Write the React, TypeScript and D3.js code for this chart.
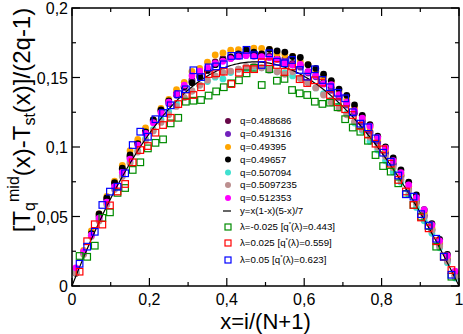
import React from 'react';
import * as d3 from 'd3';

const W = 463;
const H = 334;
const plot = { left: 72, right: 459, top: 8, bottom: 286 };

const xTicks = [0, 0.2, 0.4, 0.6, 0.8, 1];
const xTickLabels = ['0', '0,2', '0,4', '0,6', '0,8', '1'];
const xMinor = [0.1, 0.3, 0.5, 0.7, 0.9];
const yTicks = [0, 0.05, 0.1, 0.15, 0.2];
const yTickLabels = ['0', '0,05', '0,1', '0,15', '0,2'];
const yMinor = [0.025, 0.075, 0.125, 0.175];

// x grids
const circleX = d3.range(50).map((k) => (2 * k + 1) / 100);
const squareX = d3.range(1, 51).map((i) => i / 51);

const q0488686 = [0.0101,0.0237,0.0376,0.0498,0.0624,0.0734,0.0837,0.0933,0.1034,0.1118,0.1195,0.1267,0.1322,0.1382,0.1435,0.1483,0.1535,0.1561,0.1612,0.1637,0.1646,0.1670,0.1679,0.1672,0.1670,0.1653,0.1641,0.1633,0.1601,0.1584,0.1542,0.1515,0.1464,0.1428,0.1367,0.1312,0.1252,0.1188,0.1110,0.1038,0.0961,0.0881,0.0796,0.0697,0.0605,0.0509,0.0409,0.0305,0.0188,0.0077];
const q0491316 = [0.0111,0.0247,0.0376,0.0508,0.0624,0.0734,0.0837,0.0923,0.1024,0.1108,0.1185,0.1257,0.1312,0.1372,0.1425,0.1473,0.1525,0.1551,0.1592,0.1627,0.1636,0.1660,0.1659,0.1662,0.1650,0.1643,0.1631,0.1623,0.1591,0.1574,0.1532,0.1505,0.1454,0.1408,0.1357,0.1302,0.1242,0.1178,0.1100,0.1028,0.0951,0.0871,0.0786,0.0697,0.0605,0.0499,0.0399,0.0295,0.0188,0.0067];
const q049395 = [0.0121,0.0257,0.0396,0.0518,0.0644,0.0754,0.0867,0.0973,0.1054,0.1138,0.1195,0.1277,0.1342,0.1412,0.1465,0.1543,0.1565,0.1611,0.1662,0.1677,0.1696,0.1700,0.1699,0.1712,0.1710,0.1703,0.1671,0.1663,0.1651,0.1614,0.1592,0.1545,0.1504,0.1468,0.1397,0.1342,0.1282,0.1208,0.1140,0.1058,0.0981,0.0901,0.0806,0.0717,0.0625,0.0529,0.0419,0.0315,0.0208,0.0087];
const q049657 = [0.0091,0.0237,0.0376,0.0518,0.0634,0.0744,0.0847,0.0943,0.1024,0.1108,0.1195,0.1267,0.1332,0.1382,0.1435,0.1463,0.1505,0.1551,0.1592,0.1627,0.1646,0.1670,0.1699,0.1682,0.1670,0.1703,0.1691,0.1683,0.1651,0.1644,0.1592,0.1565,0.1524,0.1478,0.1417,0.1372,0.1302,0.1228,0.1160,0.1078,0.1001,0.0921,0.0836,0.0747,0.0655,0.0549,0.0449,0.0335,0.0228,0.0097];
const q0507094 = [0.0101,0.0237,0.0366,0.0478,0.0594,0.0704,0.0797,0.0893,0.0974,0.1058,0.1125,0.1197,0.1252,0.1312,0.1355,0.1403,0.1445,0.1471,0.1502,0.1490,0.1536,0.1560,0.1559,0.1572,0.1570,0.1553,0.1541,0.1533,0.1511,0.1494,0.1462,0.1425,0.1384,0.1338,0.1297,0.1242,0.1172,0.1118,0.1040,0.0978,0.0901,0.0821,0.0746,0.0657,0.0565,0.0469,0.0379,0.0275,0.0168,0.0057];
const q05097235 = [0.0091,0.0227,0.0356,0.0468,0.0584,0.0694,0.0787,0.0883,0.0964,0.1048,0.1115,0.1177,0.1232,0.1292,0.1355,0.1403,0.1445,0.1481,0.1512,0.1537,0.1546,0.1560,0.1579,0.1582,0.1570,0.1553,0.1541,0.1523,0.1541,0.1494,0.1462,0.1425,0.1374,0.1318,0.1277,0.1232,0.1182,0.1128,0.1070,0.0998,0.0931,0.0851,0.0766,0.0687,0.0595,0.0499,0.0399,0.0285,0.0178,0.0067];
const q0512353 = [0.0131,0.0247,0.0366,0.0488,0.0604,0.0714,0.0817,0.0913,0.1014,0.1098,0.1175,0.1247,0.1322,0.1382,0.1445,0.1513,0.1545,0.1571,0.1602,0.1617,0.1636,0.1650,0.1659,0.1652,0.1650,0.1643,0.1631,0.1603,0.1591,0.1594,0.1542,0.1515,0.1454,0.1448,0.1377,0.1322,0.1262,0.1208,0.1150,0.1068,0.0991,0.0901,0.0816,0.0727,0.0635,0.0549,0.0439,0.0325,0.0218,0.0107];

const lamM0025 = [0.0216,0.0210,0.0290,0.0490,0.0530,0.0670,0.0705,0.0835,0.0890,0.0990,0.1030,0.1055,0.1170,0.1210,0.1326,0.1333,0.1338,0.1370,0.1400,0.1430,0.1458,0.1480,0.1530,0.1570,0.1446,0.1560,0.1477,0.1490,0.1410,0.1386,0.1374,0.1326,0.1310,0.1319,0.1286,0.1200,0.1140,0.1110,0.1045,0.0942,0.0863,0.0823,0.0739,0.0662,0.0583,0.0499,0.0432,0.0283,0.0211,0.0067];
const lamP0025 = [0.0103,0.0322,0.0444,0.0442,0.0580,0.0680,0.0734,0.0890,0.0978,0.1007,0.1103,0.1158,0.1210,0.1309,0.1367,0.1374,0.1430,0.1525,0.1530,0.1542,0.1453,0.1535,0.1560,0.1560,0.1610,0.1610,0.1590,0.1540,0.1580,0.1488,0.1460,0.1480,0.1463,0.1374,0.1322,0.1272,0.1230,0.1152,0.1090,0.1024,0.0983,0.0880,0.0763,0.0680,0.0583,0.0493,0.0415,0.0322,0.0211,0.0115];
const lamP005 = [0.0160,0.0283,0.0390,0.0583,0.0679,0.0714,0.0811,0.1014,0.1110,0.1074,0.1200,0.1245,0.1300,0.1380,0.1415,0.1552,0.1503,0.1573,0.1580,0.1595,0.1655,0.1658,0.1699,0.1660,0.1590,0.1674,0.1614,0.1602,0.1626,0.1554,0.1506,0.1559,0.1482,0.1430,0.1390,0.1350,0.1250,0.1168,0.1142,0.1062,0.0959,0.0894,0.0795,0.0660,0.0643,0.0517,0.0435,0.0340,0.0211,0.0081];

const circleSeries = [
  { label: 'q=0.488686', color: '#670748', values: q0488686 },
  { label: 'q=0.491316', color: '#7221BC', values: q0491316 },
  { label: 'q=0.49395', color: '#FFA500', values: q049395 },
  { label: 'q=0.49657', color: '#000000', values: q049657 },
  { label: 'q=0.507094', color: '#40E0D0', values: q0507094 },
  { label: 'q=0.5097235', color: '#BC8F8F', values: q05097235 },
  { label: 'q=0.512353', color: '#FF00FF', values: q0512353 },
];

const squareSeries = [
  { lam: '-0.025', qs: '0.443', color: '#008B00', values: lamM0025 },
  { lam: '0.025', qs: '0.559', color: '#FF0000', values: lamP0025 },
  { lam: '0.05', qs: '0.623', color: '#0000FF', values: lamP005 },
];

const curveLabel = 'y=x(1-x)(5-x)/7';
const curveFn = (x: number) => (x * (1 - x) * (5 - x)) / 7;

const FONT = "'Liberation Sans', Arial, Helvetica, sans-serif";

export default function App() {
  const x = d3.scaleLinear().domain([0, 1]).range([plot.left, plot.right]);
  const y = d3.scaleLinear().domain([0, 0.2]).range([plot.bottom, plot.top]);
  const curvePts = d3.range(0, 1.0001, 0.005).map((v) => [v, curveFn(v)] as [number, number]);
  const line = d3.line<[number, number]>().x((d) => x(d[0])).y((d) => y(d[1]));

  const legendY = [121, 134, 147, 159.5, 172.5, 185, 198, 211, 227, 243, 260];
  const legMarkX = 228;
  const legTextX = 240;
  const legFont = 9.7;
  const sq = 6.6;

  return (
    <svg width={W} height={H} style={{ position: 'absolute', left: 0, top: 0, background: '#fff' }} fontFamily={FONT}>
      <rect x={0} y={0} width={W} height={H} fill="#fff" />
      {/* circles */}
      {circleSeries.map((s) => (
        <g key={s.label} fill={s.color}>
          {s.values.map((v, i) => (
            <circle key={i} cx={x(circleX[i])} cy={y(v)} r={3.4} />
          ))}
        </g>
      ))}
      {/* curve */}
      <path d={line(curvePts) || ''} fill="none" stroke="#000" strokeWidth={1.2} />
      {/* squares */}
      {squareSeries.map((s) => (
        <g key={s.lam} fill="none" stroke={s.color} strokeWidth={1.2}>
          {s.values.map((v, i) => (
            <rect key={i} x={x(squareX[i]) - sq / 2} y={y(v) - sq / 2} width={sq} height={sq} />
          ))}
        </g>
      ))}
      {/* frame */}
      <rect x={plot.left} y={plot.top} width={plot.right - plot.left} height={plot.bottom - plot.top} fill="none" stroke="#000" strokeWidth={1.5} />
      {/* x ticks */}
      {xTicks.map((t) => (
        <g key={'xt' + t}>
          <line x1={x(t)} x2={x(t)} y1={plot.bottom} y2={plot.bottom - 8} stroke="#000" strokeWidth={1.2} />
          <line x1={x(t)} x2={x(t)} y1={plot.top} y2={plot.top + 8} stroke="#000" strokeWidth={1.2} />
        </g>
      ))}
      {xMinor.map((t) => (
        <g key={'xm' + t}>
          <line x1={x(t)} x2={x(t)} y1={plot.bottom} y2={plot.bottom - 4} stroke="#000" strokeWidth={1.2} />
          <line x1={x(t)} x2={x(t)} y1={plot.top} y2={plot.top + 4} stroke="#000" strokeWidth={1.2} />
        </g>
      ))}
      {yTicks.map((t) => (
        <g key={'yt' + t}>
          <line x1={plot.left} x2={plot.left + 8} y1={y(t)} y2={y(t)} stroke="#000" strokeWidth={1.2} />
          <line x1={plot.right} x2={plot.right - 8} y1={y(t)} y2={y(t)} stroke="#000" strokeWidth={1.2} />
        </g>
      ))}
      {yMinor.map((t) => (
        <g key={'ym' + t}>
          <line x1={plot.left} x2={plot.left + 4} y1={y(t)} y2={y(t)} stroke="#000" strokeWidth={1.2} />
          <line x1={plot.right} x2={plot.right - 4} y1={y(t)} y2={y(t)} stroke="#000" strokeWidth={1.2} />
        </g>
      ))}
      {/* tick labels */}
      {xTicks.map((t, i) => (
        <text key={'xl' + t} x={x(t)} y={305} fontSize={16} textAnchor="middle">{xTickLabels[i]}</text>
      ))}
      {yTicks.map((t, i) => (
        <text key={'yl' + t} x={68} y={y(t) + 6} fontSize={16} textAnchor="end">{yTickLabels[i]}</text>
      ))}
      {/* axis titles */}
      <text x={(plot.left + plot.right) / 2} y={329} fontSize={22} textAnchor="middle">x=i/(N+1)</text>
      <text transform="translate(30,120) rotate(-90)" fontSize={24} textAnchor="middle">
        <tspan>[T</tspan>
        <tspan fontSize={16} dy={5}>q</tspan>
        <tspan fontSize={16} dy={-16}>mid</tspan>
        <tspan dy={11}>(x)-T</tspan>
        <tspan fontSize={16} dy={5}>st</tspan>
        <tspan dy={-5}>(x)]/(2q-1)</tspan>
      </text>
      {/* legend */}
      {circleSeries.map((s, i) => (
        <g key={'lg' + s.label}>
          <circle cx={legMarkX} cy={legendY[i]} r={3} fill={s.color} />
          <text x={legTextX} y={legendY[i] + 3.4} fontSize={legFont}>{s.label}</text>
        </g>
      ))}
      <line x1={223} x2={231} y1={legendY[7]} y2={legendY[7]} stroke="#000" strokeWidth={1.2} />
      <text x={legTextX} y={legendY[7] + 3.4} fontSize={legFont}>{curveLabel}</text>
      {squareSeries.map((s, j) => (
        <g key={'ls' + s.lam}>
          <rect x={legMarkX - 3} y={legendY[8 + j] - 3} width={6} height={6} fill="none" stroke={s.color} strokeWidth={1.2} />
          <text x={legTextX} y={legendY[8 + j] + 3.4} fontSize={legFont}>
            <tspan>{'λ=' + s.lam + ' [q'}</tspan>
            <tspan fontSize={6} dy={-4}>*</tspan>
            <tspan dy={4}>{'(λ)=' + s.qs + ']'}</tspan>
          </text>
        </g>
      ))}
    </svg>
  );
}
